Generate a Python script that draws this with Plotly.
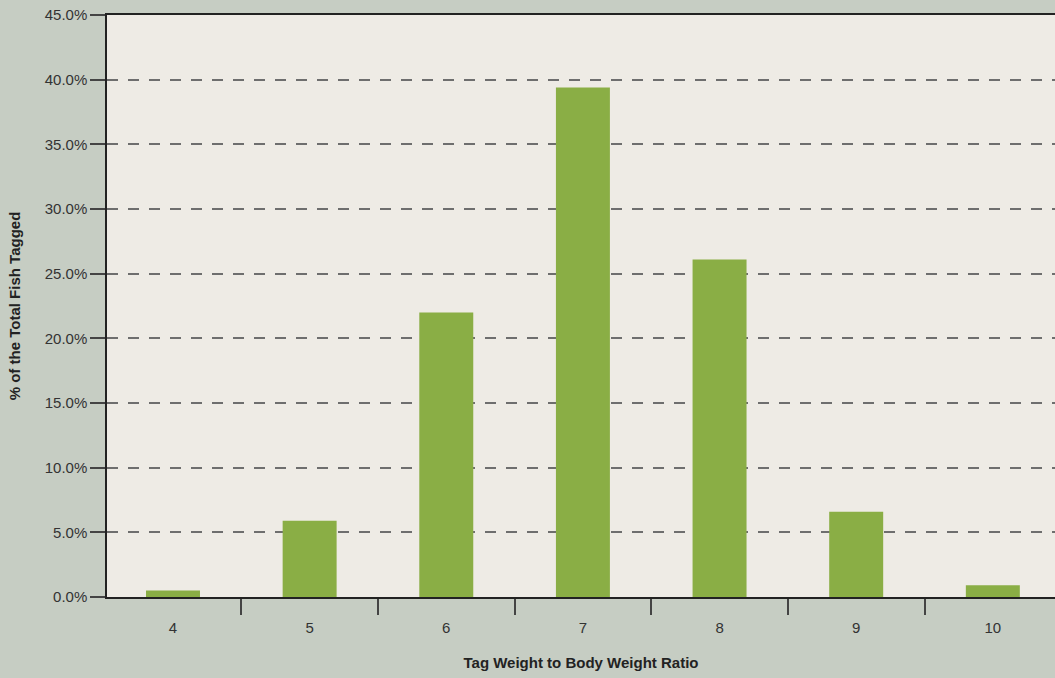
import plotly.graph_objects as go

categories = ["4", "5", "6", "7", "8", "9", "10"]
percent_tagged = [0.5, 5.9, 22.0, 39.4, 26.1, 6.6, 0.9]
y_ticks = [0, 5, 10, 15, 20, 25, 30, 35, 40, 45]
y_tick_labels = ["0.0%", "5.0%", "10.0%", "15.0%", "20.0%", "25.0%", "30.0%", "35.0%", "40.0%", "45.0%"]

fig = go.Figure(
    go.Bar(
        x=categories,
        y=percent_tagged,
        marker=dict(color="#8aae45", line=dict(width=0)),
        hovertemplate="%{x}: %{y:.1f}%<extra></extra>",
    )
)

fig.update_layout(
    width=1055,
    height=678,
    margin=dict(l=107, r=0, t=15, b=81),
    paper_bgcolor="#c6cdc3",
    plot_bgcolor="#eeebe5",
    bargap=0.605,
    showlegend=False,
    font=dict(family="Liberation Sans, Arial, sans-serif", color="#333333"),
)

fig.update_xaxes(
    type="category",
    range=[-0.483, 6.455],
    showgrid=False,
    showline=True,
    linecolor="#222222",
    linewidth=2,
    mirror=True,
    ticks="outside",
    tickson="boundaries",
    ticklen=16,
    tickwidth=1.5,
    tickcolor="#444444",
    ticklabelstandoff=16,
    tickfont=dict(size=15, color="#333333"),
    title=dict(
        text="<b>Tag Weight to Body Weight Ratio</b>",
        font=dict(size=15, color="#222222"),
        standoff=22,
    ),
)

fig.update_yaxes(
    range=[0, 45],
    tickvals=y_ticks,
    ticktext=y_tick_labels,
    showgrid=True,
    gridcolor="#6e6e6e",
    gridwidth=1.6,
    griddash="11px,10px",
    zeroline=False,
    showline=True,
    linecolor="#222222",
    linewidth=1.5,
    ticks="outside",
    ticklen=15,
    tickwidth=1.5,
    tickcolor="#444444",
    tickfont=dict(size=15, color="#333333"),
    title=dict(
        text="<b>% of the Total Fish Tagged</b>",
        font=dict(size=15, color="#222222"),
        standoff=20,
    ),
)

fig.write_html(
    "out.html",
    config={"displayModeBar": False},
    post_script="document.body.style.margin='0';document.body.style.padding='0';",
)
